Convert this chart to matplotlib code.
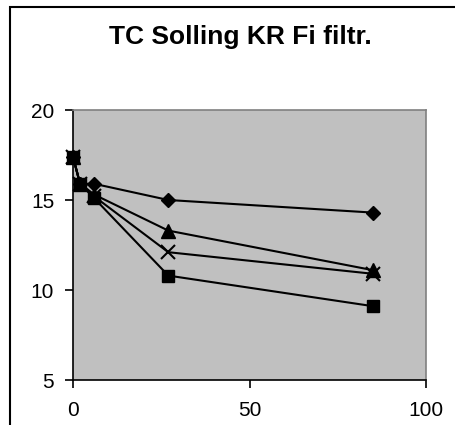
import matplotlib
matplotlib.use("Agg")
import matplotlib.pyplot as plt
from matplotlib.patches import Rectangle

plt.rcParams['font.family'] = ['Liberation Sans', 'DejaVu Sans']

# sampling times and the four series
days = [0, 2, 6, 27, 85]
s_diamond = [17.4, 15.9, 15.9, 15.0, 14.3]
s_square = [17.4, 15.9, 15.1, 10.8, 9.1]
s_triangle = [17.4, 15.9, 15.3, 13.3, 11.1]
s_cross = [17.4, 15.9, 15.2, 12.1, 10.9]

W, H = 455, 425
fig = plt.figure(figsize=(W / 100, H / 100), dpi=100)
fig.patch.set_facecolor('white')

# outer chart frame (right and bottom edges fall outside the image)
fig.patches.append(Rectangle((9.5 / W, -0.1), 2.0, 1.1 - 6.5 / H,
                             transform=fig.transFigure, fill=False,
                             edgecolor='black', linewidth=1.5))

ax = fig.add_axes([73 / W, 1 - 380 / H, 353 / W, 270 / H])
ax.set_facecolor('#c0c0c0')

style = dict(color='black', lw=1.5, zorder=3, clip_on=False)
ax.plot(days, s_diamond, marker='D', ms=7.5, **style)
ax.plot(days, s_square, marker='s', ms=8.5, **style)
ax.plot(days, s_triangle, marker='^', ms=9.5, **style)
ax.plot(days, s_cross, marker='x', ms=9.5, mew=1.5, **style)

ax.set_xlim(0, 100)
ax.set_ylim(5, 20)
ax.set_xticks([0, 50, 100])
ax.set_yticks([5, 10, 15, 20])

for side in ('top', 'right'):
    ax.spines[side].set_color('#808080')
    ax.spines[side].set_linewidth(1.2)
for side in ('left', 'bottom'):
    ax.spines[side].set_color('black')
    ax.spines[side].set_linewidth(1.2)

ax.tick_params(direction='out', length=6, width=1.2, labelsize=15)
ax.tick_params(axis='x', pad=9)
ax.tick_params(axis='y', pad=7.5)

fig.text(240 / W, 1 - 44 / H, 'TC Solling KR Fi filtr.', fontsize=19,
         fontweight='bold', ha='center', va='baseline')

fig.savefig('out.png', dpi=100)
